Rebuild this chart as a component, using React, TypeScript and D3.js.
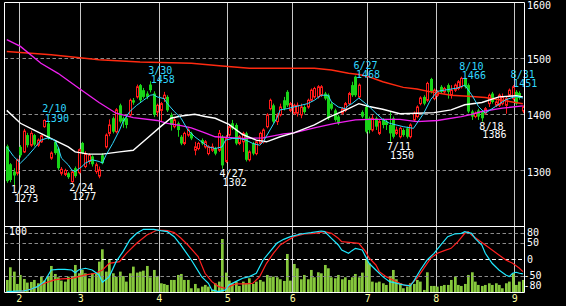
import React from 'react';
import * as d3 from 'd3';

// ---------- DATA ----------
const opens = [
  1342, 1310, 1297, 1294, 1341, 1332, 1362, 1344, 1362, 1344,
  1350, 1377, 1383, 1321, 1350, 1338, 1294, 1292, 1294, 1279,
  1303, 1295, 1348, 1306, 1315, 1324, 1297, 1289, 1326, 1341,
  1365, 1392, 1368, 1415, 1392, 1392, 1398, 1424, 1430, 1451,
  1442, 1436, 1452, 1436, 1403, 1406, 1427, 1430, 1398, 1377,
  1383, 1359, 1347, 1362, 1365, 1335, 1338, 1353, 1341, 1329,
  1335, 1338, 1335, 1359, 1315, 1362, 1383, 1380, 1347, 1350,
  1365, 1318, 1347, 1329, 1347, 1350, 1377, 1409, 1415, 1386,
  1398, 1424, 1439, 1406, 1401, 1401, 1398, 1412, 1412, 1424,
  1430, 1430, 1433, 1436, 1433, 1418, 1406, 1395, 1401, 1406,
  1418, 1451, 1466, 1430, 1403, 1412, 1392, 1371, 1392, 1365,
  1389, 1386, 1380, 1392, 1365, 1359, 1371, 1374, 1359, 1389,
  1395, 1418, 1430, 1424, 1462, 1427, 1433, 1448, 1439, 1451,
  1433, 1442, 1445, 1448, 1463, 1451, 1404, 1395, 1406, 1403,
  1401, 1418, 1436, 1415, 1415, 1418, 1415, 1433, 1427, 1439,
  1437, 1405,
];
const highs = [
  1345, 1312, 1303, 1320, 1344, 1373, 1366, 1370, 1364, 1356,
  1363, 1390, 1386, 1333, 1353, 1341, 1305, 1302, 1296, 1298,
  1306, 1338, 1350, 1333, 1330, 1326, 1313, 1306, 1330, 1365,
  1390, 1395, 1410, 1418, 1395, 1395, 1427, 1428, 1452, 1453,
  1446, 1440, 1458, 1440, 1418, 1421, 1439, 1433, 1402, 1392,
  1386, 1362, 1368, 1374, 1368, 1350, 1350, 1356, 1353, 1344,
  1347, 1341, 1371, 1362, 1362, 1380, 1389, 1383, 1362, 1368,
  1368, 1335, 1350, 1353, 1368, 1374, 1401, 1427, 1418, 1401,
  1418, 1430, 1442, 1421, 1418, 1420, 1418, 1415, 1427, 1445,
  1448, 1451, 1451, 1439, 1436, 1421, 1409, 1398, 1412, 1421,
  1439, 1457, 1468, 1454, 1406, 1415, 1395, 1398, 1395, 1389,
  1392, 1389, 1404, 1395, 1377, 1377, 1374, 1377, 1383, 1404,
  1415, 1431, 1433, 1457, 1464, 1445, 1442, 1451, 1448, 1454,
  1451, 1454, 1460, 1466, 1464, 1454, 1407, 1404, 1409, 1406,
  1412, 1436, 1439, 1424, 1436, 1436, 1430, 1445, 1451, 1442,
  1440, 1415,
];
const lows = [
  1277, 1278, 1273, 1290, 1322, 1330, 1340, 1341, 1342, 1341,
  1348, 1375, 1354, 1318, 1327, 1300, 1290, 1289, 1284, 1277,
  1286, 1292, 1328, 1303, 1310, 1306, 1293, 1285, 1310, 1338,
  1360, 1365, 1365, 1383, 1375, 1374, 1395, 1416, 1427, 1420,
  1427, 1426, 1438, 1394, 1395, 1386, 1421, 1403, 1370, 1374,
  1359, 1344, 1344, 1359, 1353, 1326, 1335, 1344, 1338, 1326,
  1332, 1326, 1332, 1302, 1312, 1359, 1371, 1344, 1344, 1332,
  1315, 1315, 1326, 1326, 1344, 1347, 1374, 1406, 1383, 1380,
  1395, 1406, 1412, 1403, 1398, 1395, 1392, 1400, 1409, 1421,
  1427, 1427, 1430, 1424, 1389, 1406, 1386, 1380, 1398, 1403,
  1415, 1430, 1430, 1427, 1392, 1365, 1365, 1368, 1371, 1362,
  1374, 1371, 1350, 1356, 1362, 1356, 1359, 1356, 1356, 1386,
  1392, 1415, 1415, 1421, 1436, 1424, 1430, 1436, 1436, 1427,
  1427, 1439, 1442, 1445, 1445, 1401, 1389, 1392, 1389, 1386,
  1398, 1412, 1418, 1412, 1412, 1415, 1400, 1430, 1424, 1415,
  1425, 1401,
];
const closes = [
  1280, 1282, 1290, 1318, 1326, 1369, 1344, 1365, 1345, 1353,
  1361, 1388, 1356, 1330, 1330, 1303, 1301, 1299, 1287, 1296,
  1289, 1336, 1330, 1329, 1326, 1310, 1309, 1300, 1312, 1362,
  1380, 1368, 1407, 1386, 1386, 1380, 1424, 1420, 1448, 1424,
  1430, 1430, 1442, 1398, 1415, 1418, 1433, 1406, 1380, 1389,
  1371, 1347, 1365, 1371, 1356, 1341, 1347, 1347, 1350, 1341,
  1341, 1329, 1365, 1308, 1356, 1377, 1374, 1347, 1359, 1365,
  1318, 1332, 1329, 1350, 1365, 1371, 1398, 1424, 1386, 1398,
  1412, 1409, 1415, 1418, 1415, 1415, 1412, 1403, 1424, 1442,
  1445, 1448, 1448, 1427, 1392, 1409, 1389, 1383, 1409, 1418,
  1436, 1433, 1433, 1451, 1395, 1368, 1371, 1392, 1377, 1386,
  1380, 1380, 1365, 1359, 1371, 1374, 1362, 1359, 1380, 1401,
  1412, 1428, 1418, 1454, 1439, 1442, 1439, 1439, 1445, 1439,
  1442, 1451, 1457, 1463, 1448, 1404, 1395, 1401, 1395, 1392,
  1409, 1433, 1421, 1421, 1433, 1430, 1427, 1442, 1448, 1418,
  1428, 1412,
];
const volumes = [
  190, 380, 315, 130, 265, 205, 150, 160, 190, 140,
  240, 180, 250, 400, 280, 230, 180, 165, 240, 250,
  415, 290, 340, 290, 215, 290, 290, 465, 650, 315,
  500, 290, 240, 315, 250, 165, 290, 390, 300, 315,
  330, 400, 230, 340, 250, 140, 130, 115, 190, 190,
  265, 280, 190, 190, 65, 130, 65, 90, 115, 90,
  40, 140, 165, 805, 300, 180, 140, 165, 100, 165,
  140, 215, 130, 165, 190, 165, 265, 230, 240, 230,
  200, 175, 580, 180, 430, 365, 200, 265, 200, 340,
  230, 305, 290, 415, 365, 230, 215, 265, 200, 230,
  190, 230, 280, 230, 300, 500, 440, 165, 150, 165,
  140, 115, 240, 340, 200, 140, 65, 90, 140, 130,
  190, 165, 40, 305, 100, 100, 90, 100, 115, 115,
  190, 240, 115, 100, 130, 265, 305, 165, 115, 100,
  115, 140, 115, 140, 115, 65, 140, 165, 290, 115,
  165, 190,
];

// moving averages: [candle index, price]
const maFast: [number, number][] = [
  [0, 1341], [2, 1324], [4, 1312], [6, 1324], [8, 1338], [10, 1353], [12, 1357], [14, 1353], [15, 1341],
  [16, 1321], [18, 1309], [19, 1300], [20, 1297], [22, 1306], [23, 1312], [25, 1318], [27, 1315], [28, 1312],
  [29, 1326], [31, 1347], [33, 1371], [34, 1386], [36, 1404], [38, 1415], [40, 1424], [42, 1433], [43, 1434],
  [44, 1430], [46, 1427], [47, 1418], [49, 1404], [51, 1392], [53, 1371], [55, 1359], [57, 1350], [59, 1341],
  [61, 1338], [63, 1341], [64, 1353], [66, 1356], [68, 1356], [70, 1353], [72, 1347], [74, 1344], [75, 1350],
  [77, 1371], [79, 1392], [80, 1407], [82, 1409], [84, 1412], [86, 1415], [88, 1418], [90, 1424], [92, 1433],
  [94, 1433], [95, 1421], [97, 1412], [99, 1409], [100, 1415], [101, 1418], [103, 1428], [105, 1418],
  [106, 1413], [108, 1401], [110, 1390], [112, 1383], [116, 1377], [119, 1374], [122, 1401], [124, 1425],
  [126, 1440], [129, 1443], [132, 1446], [134, 1451], [136, 1434], [138, 1413], [140, 1401], [143, 1413],
  [146, 1425], [149, 1431], [151, 1428],
];
const maMid: [number, number][] = [
  [0, 1406], [4, 1383], [8, 1371], [12, 1359], [15, 1350], [18, 1341], [20, 1332], [24, 1328], [28, 1328],
  [33, 1332], [37, 1335], [41, 1356], [45, 1377], [48, 1392], [51, 1396], [55, 1399], [58, 1395], [61, 1392],
  [65, 1381], [69, 1363], [73, 1353], [76, 1350], [80, 1359], [84, 1366], [90, 1380], [94, 1393], [100, 1409],
  [103, 1418], [106, 1413], [110, 1408], [115, 1400], [120, 1401], [125, 1402], [130, 1407], [134, 1416],
  [139, 1420], [144, 1430], [149, 1432], [151, 1430],
];
const maLong: [number, number][] = [
  [0, 1532], [4, 1520], [10, 1490], [15, 1472], [21, 1446], [27, 1420], [32, 1401], [37, 1393], [44, 1388],
  [47, 1383], [51, 1379], [54, 1375], [58, 1366], [61, 1359], [69, 1356], [75, 1357], [81, 1364], [84, 1366],
  [90, 1375], [96, 1383], [102, 1389], [106, 1390], [115, 1390], [120, 1386], [126, 1388], [133, 1395],
  [136, 1399], [139, 1404], [145, 1410], [151, 1414],
];
const maVeryLong: [number, number][] = [
  [0, 1511], [13, 1505], [27, 1496], [39, 1492], [54, 1490], [63, 1485], [71, 1481], [90, 1481], [95, 1478],
  [100, 1472], [103, 1470], [106, 1466], [110, 1457], [116, 1447], [120, 1444], [124, 1439], [130, 1433],
  [135, 1431], [140, 1429], [145, 1424], [151, 1418],
];

// oscillators (lower panel), [candle index, value]
const oscFast: [number, number][] = [
  [0, -97], [5, -95], [7, -90], [9, -82], [11, -67], [13, -32], [15, -30], [17, -30], [19, -32], [20, -40],
  [21, -32], [23, -27], [25, -32], [27, -47], [28, -69], [30, -52], [32, -7], [34, 23], [36, 58], [38, 78],
  [40, 90], [43, 90], [45, 86], [47, 83], [49, 68], [51, 42], [54, -2], [57, -52], [59, -72], [60, -92],
  [62, -97], [64, -92], [65, -77], [67, -67], [69, -57], [71, -52], [73, -42], [75, -2], [77, 23], [79, 48],
  [81, 60], [83, 68], [86, 76], [89, 80], [92, 85], [93, 83], [95, 63], [97, 43], [98, 28], [100, 18],
  [101, 26], [102, 33], [104, 28], [105, 8], [106, -12], [108, -32], [110, -52], [112, -67], [114, -72],
  [116, -77], [118, -80], [119, -67], [121, -32], [123, -2], [125, 18], [127, 43], [129, 68], [131, 76],
  [133, 78], [134, 83], [136, 78], [137, 63], [139, 43], [140, 18], [142, -12], [144, -32], [146, -47],
  [147, -52], [148, -42], [149, -39], [150, -42], [151, -44],
];
const oscSlow: [number, number][] = [
  [0, -100], [4, -97], [8, -87], [11, -72], [14, -62], [16, -59], [19, -57], [21, -52], [23, -47], [26, -42],
  [28, -32], [30, -12], [33, -7], [35, 18], [38, 48], [41, 73], [44, 88], [47, 86], [49, 80], [51, 63],
  [53, 43], [56, 8], [58, -42], [60, -67], [62, -82], [64, -87], [65, -82], [67, -74], [70, -74], [72, -72],
  [74, -52], [76, -12], [78, 18], [80, 43], [82, 56], [84, 68], [87, 76], [90, 78], [93, 83], [95, 78],
  [97, 63], [98, 53], [101, 50], [103, 48], [105, 23], [106, 4], [108, -17], [109, -37], [111, -52],
  [113, -62], [115, -72], [117, -80], [118, -77], [120, -57], [122, -27], [124, 3], [126, 18], [128, 26],
  [130, 33], [132, 53], [134, 78], [135, 83], [136, 73], [138, 58], [140, 43], [142, 28], [144, 13],
  [146, -2], [148, -12], [150, -27], [151, -37],
];

const monthStartIdx = [4, 22, 45, 65, 84, 106, 126, 149];
const monthLabels = ['2', '3', '4', '5', '6', '7', '8', '9'];
const priceTicks = [1600, 1500, 1400, 1300];
const priceGrid = [1500, 1400, 1300];
const oscTicks = [80, 50, 0, -50, -80];
const oscGrid = [80, 50, -50];

const highMarks = [
  { i: 11, date: '2/10', value: 1390 },
  { i: 42, date: '3/30', value: 1458 },
  { i: 102, date: '6/27', value: 1468 },
  { i: 133, date: '8/10', value: 1466 },
  { i: 148, date: '8/31', value: 1451 },
];
const lowMarks = [
  { i: 2, date: '1/28', value: 1273 },
  { i: 19, date: '2/24', value: 1277 },
  { i: 63, date: '4/27', value: 1302 },
  { i: 112, date: '7/11', value: 1350 },
  { i: 139, date: '8/18', value: 1386 },
];

// ---------- STYLE ----------
const W = 566;
const H = 306;
const LEFT = 4.5;
const RIGHT = 524.5;
const TOP = 2.5;
const MID = 226.5;
const BOTTOM = 292.5;
const RED = '#ff1a1a';
const GREEN = '#18d418';
const CYAN = '#30d8ff';
const FONT = '"DejaVu Sans Mono", monospace';

export default function App() {
  React.useEffect(() => {
    document.body.style.margin = '0';
    document.body.style.background = '#000';
  }, []);

  const n = Math.min(opens.length, highs.length, lows.length, closes.length);
  const x = d3.scaleLinear().domain([0, 151]).range([6.76, 6.76 + 151 * 3.418]);
  const y = d3.scaleLinear().domain([1200, 1600]).range([226, 1.5]);
  const yo = d3.scaleLinear().domain([-100, 100]).range([292.6, 226]);
  const yv = d3.scaleLinear().domain([0, 1000]).range([292.6, 226]);

  const priceLine = d3.line<[number, number]>().x((d) => x(d[0])).y((d) => y(d[1]));
  const oscLine = d3.line<[number, number]>().x((d) => x(d[0])).y((d) => yo(d[1]));

  const crisp = (v: number) => Math.round(v) + 0.5;

  return (
    <svg width={W} height={H} style={{ display: 'block', position: 'absolute', left: 0, top: 0, background: '#000' }}>
      <defs>
        <clipPath id="mainClip">
          <rect x={LEFT + 0.5} y={TOP + 0.5} width={RIGHT - LEFT - 1} height={MID - TOP - 1} />
        </clipPath>
        <clipPath id="subClip">
          <rect x={LEFT + 0.5} y={MID + 0.5} width={RIGHT - LEFT - 1} height={BOTTOM - MID - 1} />
        </clipPath>
      </defs>
      <rect x={0} y={0} width={W} height={H} fill="#000" />

      {/* vertical month grid */}
      {monthStartIdx.map((mi, k) => (
        <line key={'vg' + k} x1={crisp(x(mi - 0.5))} x2={crisp(x(mi - 0.5))} y1={TOP} y2={BOTTOM} stroke="#c8c8c8" strokeWidth={1} />
      ))}

      {/* horizontal dashed grid, main */}
      {priceGrid.map((p) => (
        <line key={'pg' + p} x1={LEFT} x2={RIGHT} y1={crisp(y(p))} y2={crisp(y(p))} stroke="#8a8a8a" strokeDasharray="3.5,2.5" />
      ))}

      {/* main panel */}
      <g clipPath="url(#mainClip)">
        {d3.range(n).map((i) => {
          const cx = Math.round(x(i));
          const o = opens[i];
          const c = closes[i];
          const up = c >= o;
          const yTop = y(Math.max(o, c));
          const yBot = y(Math.min(o, c));
          const hgt = Math.max(yBot - yTop, 1);
          if (up) {
            return (
              <g key={'c' + i}>
                <line x1={cx + 0.5} x2={cx + 0.5} y1={y(highs[i])} y2={y(lows[i])} stroke={RED} strokeWidth={1} />
                <rect x={cx - 0.5} y={yTop} width={2} height={hgt} fill="#000" stroke={RED} strokeWidth={1} />
              </g>
            );
          }
          return (
            <g key={'c' + i}>
              <line x1={cx + 0.5} x2={cx + 0.5} y1={y(highs[i])} y2={y(lows[i])} stroke={GREEN} strokeWidth={1} />
              <rect x={cx - 1} y={yTop} width={3} height={hgt} fill={GREEN} />
            </g>
          );
        })}
        <path d={priceLine(maVeryLong) || ''} fill="none" stroke="#ff2a10" strokeWidth={1.5} />
        <path d={priceLine(maLong) || ''} fill="none" stroke="#f020f0" strokeWidth={1.3} />
        <path d={priceLine(maMid) || ''} fill="none" stroke="#ffffff" strokeWidth={1.4} />
        <path d={priceLine(maFast) || ''} fill="none" stroke={CYAN} strokeWidth={1} />
      </g>

      {/* high / low annotations */}
      {highMarks.map((m) => (
        <g key={'h' + m.i} fontFamily={FONT} fontSize={10} fill={CYAN}>
          <text x={x(m.i) - 2} y={y(m.value) - 7}>{m.date}</text>
          <text x={x(m.i) + 0.5} y={y(m.value) + 2.3}>{String(m.value)}</text>
        </g>
      ))}
      {lowMarks.map((m) => (
        <g key={'l' + m.i} fontFamily={FONT} fontSize={10} fill="#ffffff">
          <text x={x(m.i) - 2.5} y={y(m.value) + 8}>{m.date}</text>
          <text x={x(m.i) + 0.5} y={y(m.value) + 16.8}>{String(m.value)}</text>
        </g>
      ))}

      {/* lower panel */}
      <g clipPath="url(#subClip)">
        {d3.range(Math.min(n, volumes.length)).map((i) => (
          <rect key={'v' + i} x={Math.round(x(i)) - 1} y={yv(volumes[i])} width={2.7} height={yv(0) - yv(volumes[i])} fill="#86c83c" />
        ))}
        {oscGrid.map((v) => (
          <line key={'og' + v} x1={LEFT} x2={RIGHT} y1={crisp(yo(v))} y2={crisp(yo(v))} stroke="#8a8a8a" strokeDasharray="3.5,2.5" />
        ))}
        <line x1={LEFT} x2={RIGHT} y1={crisp(yo(0))} y2={crisp(yo(0))} stroke="#ffffff" strokeDasharray="4,2.5" />
        <path d={oscLine(oscSlow) || ''} fill="none" stroke="#ff2020" strokeWidth={1.2} />
        <path d={oscLine(oscFast) || ''} fill="none" stroke="#20e8ff" strokeWidth={1.2} />
      </g>

      {/* frame */}
      <line x1={LEFT} x2={RIGHT} y1={TOP} y2={TOP} stroke="#fff" />
      <line x1={LEFT} x2={RIGHT} y1={MID} y2={MID} stroke="#fff" />
      <line x1={LEFT} x2={RIGHT} y1={BOTTOM} y2={BOTTOM} stroke="#fff" />
      <line x1={LEFT} x2={LEFT} y1={TOP} y2={BOTTOM} stroke="#fff" />
      <line x1={RIGHT} x2={RIGHT} y1={TOP} y2={BOTTOM} stroke="#fff" />

      {/* axis labels */}
      <g fontFamily={FONT} fontSize={10} fill="#ffffff">
        {priceTicks.map((p) => (
          <text key={'pt' + p} x={527} y={Math.max(y(p) + 5.7, 8.5)}>{String(p)}</text>
        ))}
        {oscTicks.map((v) => (
          <text key={'ot' + v} x={v < 0 ? 523.5 : 527} y={yo(v) + 3.4}>{String(v)}</text>
        ))}
        <text x={9} y={235}>100</text>
      </g>
      <g fontFamily={FONT} fontSize={10} fill="#ffffa0" textAnchor="middle">
        {monthStartIdx.map((mi, k) => (
          <text key={'ml' + k} x={x(mi - 0.5) + 0.5} y={302}>{monthLabels[k]}</text>
        ))}
      </g>
    </svg>
  );
}
